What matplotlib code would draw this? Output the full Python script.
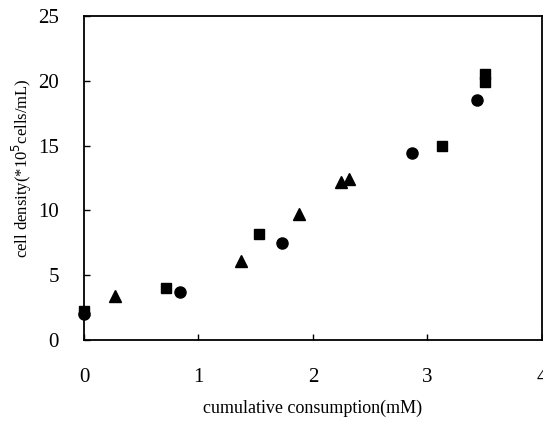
import matplotlib
matplotlib.use('Agg')
import matplotlib.pyplot as plt

plt.rcParams['font.family'] = ['Liberation Serif', 'DejaVu Serif']

# squares
sq_x = [0.0, 0.72, 1.53, 3.13, 3.50, 3.50]
sq_y = [2.2, 4.0, 8.2, 15.0, 19.9, 20.5]
# circles
ci_x = [0.0, 0.84, 1.73, 2.87, 3.43]
ci_y = [2.0, 3.7, 7.5, 14.4, 18.5]
# triangles
tr_x = [0.27, 1.37, 1.88, 2.25, 2.32]
tr_y = [3.4, 6.1, 9.7, 12.2, 12.4]

xticks = [0, 1, 2, 3, 4]
yticks = [0, 5, 10, 15, 20, 25]

fig = plt.figure(figsize=(5.43, 4.25), dpi=100)
ax = fig.add_axes([0.1547, 0.2, 0.843, 0.7624])

ax.plot(sq_x, sq_y, 's', color='black', markersize=7, clip_on=False)
ax.plot(ci_x, ci_y, 'o', color='black', markersize=8, clip_on=False)
ax.plot(tr_x, tr_y, '^', color='black', markersize=8.5, clip_on=False)

ax.set_xlim(0, 4)
ax.set_ylim(0, 25)
ax.set_xticks(xticks)
ax.set_yticks(yticks)
ax.tick_params(direction='in', length=4, width=1, labelsize=15)
ax.tick_params(axis='x', pad=20)
ax.tick_params(axis='y', pad=18)
for s in ax.spines.values():
    s.set_linewidth(1.3)

ax.set_xlabel('cumulative consumption(mM)', fontsize=13, labelpad=9)
ax.set_ylabel(r'cell density(*10$^5$cells/mL)', fontsize=12)
ax.yaxis.set_label_coords(-0.11, 0.53)

fig.savefig('out.png', dpi=100)
